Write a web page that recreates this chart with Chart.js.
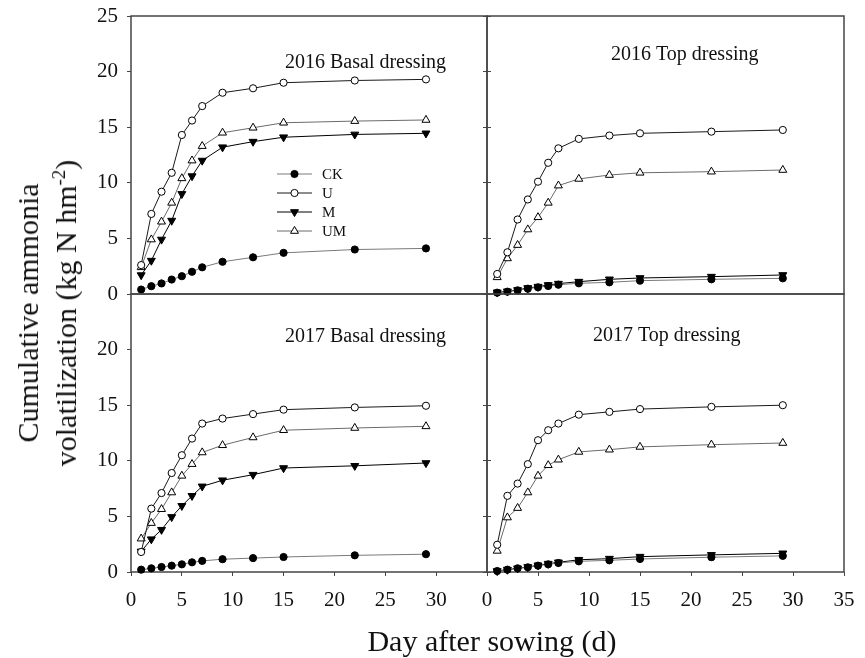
<!DOCTYPE html>
<html>
<head>
<meta charset="utf-8">
<script src="https://cdn.jsdelivr.net/npm/chart.js@4.4.1/dist/chart.umd.min.js"></script>
<style>
  body { margin: 0; background: #fff; }
  #wrap { position: relative; width: 865px; height: 658px; overflow: hidden; }
  #wrap canvas { position: absolute; left: 0; top: 0; }
  .axis-title { position: absolute; font-family: "Liberation Serif", serif; font-size: 30px; color: #111; white-space: nowrap; }
  #ytitle { left: 47px; top: 313px; line-height: 38px; text-align: center; transform: translate(-50%, -50%) rotate(-90deg); }
  #ytitle sup { font-size: 19px; line-height: 0; vertical-align: 11px; }
  #xtitle { left: 492px; top: 626px; line-height: 30px; transform: translateX(-50%); }
</style>
</head>
<body>
<div id="wrap">
  <canvas id="c0" width="865" height="658"></canvas>
  <canvas id="c1" width="865" height="658"></canvas>
  <canvas id="c2" width="865" height="658"></canvas>
  <canvas id="c3" width="865" height="658"></canvas>
  <div id="ytitle" class="axis-title">Cumulative ammonia<br>volatilization (kg N hm<sup>-2</sup>)</div>
  <div id="xtitle" class="axis-title">Day after sowing (d)</div>
</div>
<script>
const days = [1, 2, 3, 4, 5, 6, 7, 9, 12, 15, 22, 29];
const treatments = ['CK', 'U', 'M', 'UM'];
const xTicks = [0, 5, 10, 15, 20, 25, 30, 35];
const yTicks = [0, 5, 10, 15, 20, 25];

// 2016 basal dressing
const ck2016Basal = [0.4, 0.7, 0.95, 1.3, 1.6, 2.0, 2.4, 2.9, 3.3, 3.7, 4.0, 4.1];
const u2016Basal  = [2.6, 7.2, 9.2, 10.9, 14.3, 15.6, 16.9, 18.1, 18.5, 19.0, 19.2, 19.3];
const m2016Basal  = [1.7, 3.0, 4.9, 6.6, 9.0, 10.6, 12.0, 13.2, 13.7, 14.1, 14.35, 14.45];
const um2016Basal = [2.4, 4.9, 6.5, 8.2, 10.4, 12.0, 13.3, 14.5, 14.95, 15.4, 15.55, 15.65];

// 2016 top dressing
const ck2016Top = [0.12, 0.21, 0.33, 0.48, 0.6, 0.72, 0.84, 0.96, 1.05, 1.2, 1.32, 1.41];
const u2016Top  = [1.8, 3.75, 6.7, 8.5, 10.1, 11.8, 13.1, 13.95, 14.25, 14.45, 14.6, 14.75];
const m2016Top  = [0.15, 0.24, 0.36, 0.54, 0.66, 0.81, 0.93, 1.11, 1.32, 1.44, 1.56, 1.71];
const um2016Top = [1.5, 3.2, 4.4, 5.8, 6.9, 8.2, 9.75, 10.35, 10.7, 10.9, 11.0, 11.15];

// 2017 basal dressing
const ck2017Basal = [0.21, 0.33, 0.45, 0.57, 0.69, 0.87, 1.0, 1.15, 1.25, 1.35, 1.5, 1.6];
const u2017Basal  = [1.8, 5.7, 7.1, 8.9, 10.5, 12.0, 13.35, 13.8, 14.2, 14.6, 14.8, 14.95];
const m2017Basal  = [1.85, 2.95, 3.8, 4.95, 5.95, 6.85, 7.7, 8.25, 8.75, 9.35, 9.55, 9.8];
const um2017Basal = [3.0, 4.4, 5.65, 7.15, 8.65, 9.7, 10.75, 11.4, 12.1, 12.75, 12.95, 13.1];

// 2017 top dressing
const ck2017Top = [0.09, 0.21, 0.33, 0.42, 0.57, 0.69, 0.81, 0.96, 1.05, 1.17, 1.33, 1.45];
const u2017Top  = [2.45, 6.85, 7.95, 9.7, 11.85, 12.75, 13.35, 14.15, 14.4, 14.65, 14.85, 15.0];
const m2017Top  = [0.09, 0.21, 0.33, 0.45, 0.6, 0.75, 0.87, 1.1, 1.2, 1.38, 1.54, 1.68];
const um2017Top = [1.9, 4.9, 5.75, 7.15, 8.65, 9.6, 10.1, 10.8, 11.0, 11.25, 11.45, 11.6];

const panelTitles = ['2016 Basal dressing', '2016 Top dressing', '2017 Basal dressing', '2017 Top dressing'];
const panelSeries = [
  [ck2016Basal, u2016Basal, m2016Basal, um2016Basal],
  [ck2016Top, u2016Top, m2016Top, um2016Top],
  [ck2017Basal, u2017Basal, m2017Basal, um2017Basal],
  [ck2017Top, u2017Top, m2017Top, um2017Top]
];

// look of each treatment
const looks = {
  CK: { line: '#7a7a7a', fill: '#000', shape: 'circle', r: 3.6, rot: 0 },
  U:  { line: '#1a1a1a', fill: '#fff', shape: 'circle', r: 3.6, rot: 0 },
  M:  { line: '#000',    fill: '#000', shape: 'triangle', r: 4.6, rot: 180 },
  UM: { line: '#6a6a6a', fill: '#fff', shape: 'triangle', r: 4.6, rot: 0 }
};

const W = 865, H = 658;
const YW = 45, XH = 50, RW = 5;
const FRAME = '#454545';
const FONT = '"Liberation Serif", "Times New Roman", serif';

// plot rectangles [left, top, right, bottom] and per panel switches
const layout = [
  { rect: [131, 16, 487, 294], yLabels: true, xAxis: false, rightTicks: true, title: [154, 52], legend: true },
  { rect: [487, 16, 844, 294], yLabels: false, xAxis: false, rightTicks: false, title: [124, 44] },
  { rect: [131, 294, 487, 572], yLabels: true, xAxis: true, rightTicks: true, title: [154, 48], hideTop: true },
  { rect: [487, 294, 844, 572], yLabels: false, xAxis: true, rightTicks: false, title: [106, 47] }
];

function drawMarker(ctx, look, x, y) {
  ctx.fillStyle = look.fill;
  ctx.strokeStyle = '#000';
  ctx.lineWidth = 1;
  if (Chart.helpers && Chart.helpers.drawPoint) {
    Chart.helpers.drawPoint(ctx, { pointStyle: look.shape, radius: look.r, rotation: look.rot, borderWidth: 1 }, x, y);
    return;
  }
  ctx.beginPath();
  ctx.arc(x, y, look.r, 0, Math.PI * 2);
  ctx.fill();
  ctx.stroke();
}

const panelPlugin = {
  id: 'panelDeco',
  beforeDatasetsDraw(chart) {
    const { ctx, chartArea: a } = chart;
    ctx.save();
    ctx.strokeStyle = FRAME;
    ctx.lineWidth = 1.5;
    ctx.strokeRect(a.left, a.top, a.right - a.left, a.bottom - a.top);
    ctx.restore();
  },
  afterDraw(chart, args, opts) {
    const { ctx, chartArea: a } = chart;
    ctx.save();
    ctx.fillStyle = '#111';
    ctx.font = '20px ' + FONT;
    ctx.textBaseline = 'alphabetic';
    ctx.fillText(opts.text, a.left + opts.pos[0], a.top + opts.pos[1]);
    if (opts.legend) {
      ctx.font = '15px ' + FONT;
      ctx.textBaseline = 'middle';
      treatments.forEach((t, i) => {
        const look = looks[t];
        const y = a.top + 158 + 19 * i;
        ctx.strokeStyle = look.line;
        ctx.lineWidth = 1;
        ctx.beginPath();
        ctx.moveTo(a.left + 146, y);
        ctx.lineTo(a.left + 181, y);
        ctx.stroke();
        drawMarker(ctx, look, a.left + 163.5, y);
        ctx.fillStyle = '#111';
        ctx.fillText(t, a.left + 191, y + 1);
      });
    }
    ctx.restore();
  }
};

function setTicks(list) {
  return scale => { scale.ticks = list.map(v => ({ value: v })); };
}

// fix the size of an axis and drop the label overhang so the plot rectangle stays put
function fixSize(prop, size) {
  return s => {
    s[prop] = size;
    s.paddingTop = 0; s.paddingBottom = 0; s.paddingLeft = 0; s.paddingRight = 0;
  };
}

layout.forEach((p, k) => {
  const [l, t, r, b] = p.rect;
  const datasets = treatments.map((name, j) => {
    const look = looks[name];
    return {
      label: name,
      data: days.map((d, i) => ({ x: d, y: panelSeries[k][j][i] })),
      borderColor: look.line,
      borderWidth: 1,
      pointStyle: look.shape,
      pointRadius: look.r,
      pointRotation: look.rot,
      pointBackgroundColor: look.fill,
      pointBorderColor: '#000',
      pointBorderWidth: 1,
      tension: 0,
      clip: false
    };
  });

  const scales = {
    x: {
      type: 'linear', min: 0, max: 35,
      afterBuildTicks: setTicks(xTicks),
      afterFit: fixSize('height', XH),
      border: { display: false },
      grid: { display: p.xAxis, drawOnChartArea: false, drawTicks: true, tickLength: 4, color: FRAME },
      ticks: {
        display: p.xAxis, maxRotation: 0, autoSkip: false, padding: 12, color: '#111',
        font: { family: FONT, size: 21 },
        callback: v => (p.rightTicks && v === 35) ? '' : v
      }
    },
    y: {
      type: 'linear', min: 0, max: 25,
      afterBuildTicks: setTicks(yTicks),
      afterFit: fixSize('width', p.yLabels ? YW : RW),
      border: { display: false },
      grid: { drawOnChartArea: false, drawTicks: true, tickLength: 4, color: FRAME },
      ticks: {
        display: p.yLabels, autoSkip: false, padding: 9, color: '#111',
        font: { family: FONT, size: 21 },
        callback: v => (p.hideTop && v === 25) ? '' : v
      }
    }
  };
  if (p.rightTicks) {
    scales.yr = {
      type: 'linear', position: 'right', min: 0, max: 25,
      afterBuildTicks: setTicks(yTicks),
      afterFit: fixSize('width', RW),
      border: { display: false },
      grid: { drawOnChartArea: false, drawTicks: true, tickLength: 4, color: FRAME },
      ticks: { display: false }
    };
  }

  const padLeft = l - (p.yLabels ? YW : RW);
  const padRight = W - r - (p.rightTicks ? RW : 0);

  new Chart(document.getElementById('c' + k), {
    type: 'line',
    data: { datasets },
    options: {
      responsive: false,
      animation: false,
      layout: { padding: { left: padLeft, right: padRight, top: t, bottom: H - b - XH } },
      scales,
      plugins: {
        legend: { display: false },
        tooltip: { enabled: false },
        panelDeco: { text: panelTitles[k], pos: p.title, legend: !!p.legend }
      }
    },
    plugins: [panelPlugin]
  });
});
</script>
</body>
</html>
